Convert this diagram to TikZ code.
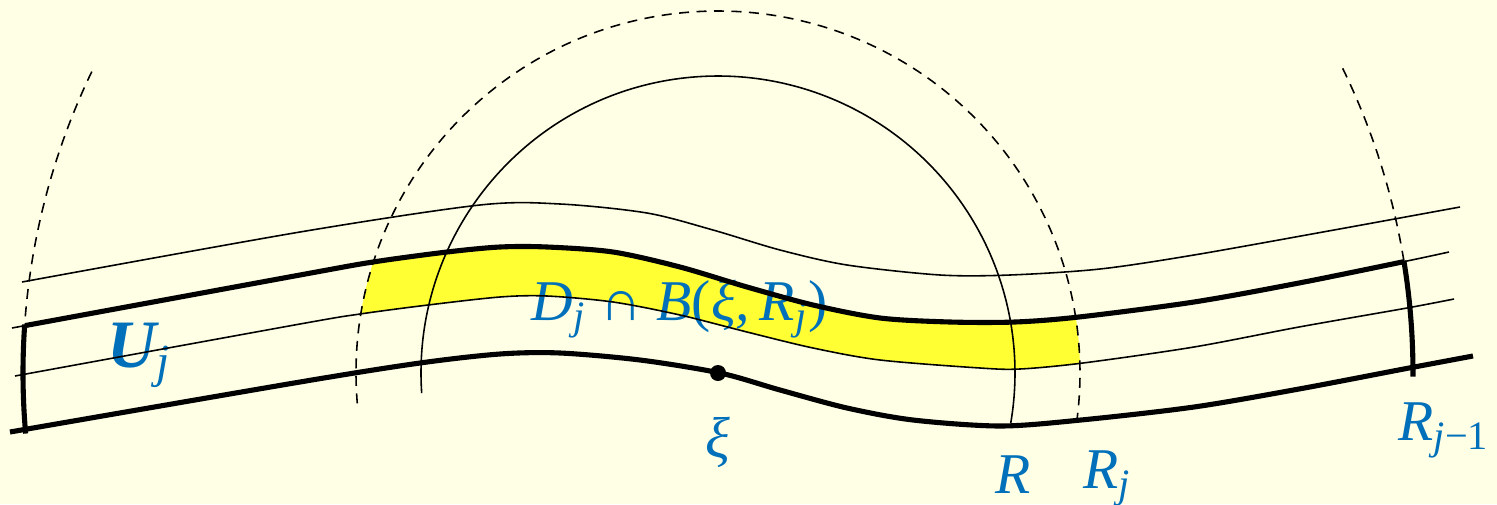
\documentclass[tikz,border=0pt]{standalone}
\usepackage{fontspec}
\setmainfont{Liberation Serif}
\usepackage{xcolor}
\usepackage{tikz}
\usetikzlibrary{positioning}
\definecolor{paper}{RGB}{255,255,230}
\definecolor{labblue}{RGB}{0,112,186}
\definecolor{hilite}{RGB}{255,255,51}
\newcommand{\lowidx}[1]{\textsubscript{\itshape #1}}
\newcommand{\topwave}{plot[smooth] coordinates {(22,222) (300,272) (480,299) (560,300) (647,291) (713,274) (780,254) (847,239) (940,229) (1010,229) (1100,235) (1194,249) (1334,274) (1460,297)}}
\newcommand{\upperwave}{plot[smooth] coordinates {(12,176) (300,229) (373,242) (447,252) (500,257) (547,257) (613,252) (680,237) (747,217) (813,199) (880,186) (950,182) (1015,182) (1079,187) (1194,202) (1299,221) (1407,243) (1449,252)}}
\newcommand{\midwave}{plot[smooth] coordinates {(15,128) (300,180) (360,190) (428,199) (500,207) (547,208) (613,202) (680,189) (747,172) (813,156) (880,144) (980,136) (1020,135) (1083,141) (1194,157) (1299,177) (1407,196) (1454,205)}}
\newcommand{\lowerwave}{plot[smooth] coordinates {(10,72) (300,122) (420,141) (500,150) (560,151) (640,144) (720,131) (780,114) (847,96) (913,84) (1000,78) (1081,84) (1194,97) (1299,115) (1409,136) (1473,148)}}
\begin{document}
\begin{tikzpicture}[
    x=0.1mm, y=0.1mm,
    thinline/.style={line width=0.45pt},
    bnd/.style={line width=1.45pt},
    circdash/.style={line width=0.45pt, dash pattern=on 1mm off 0.75mm},
    lab/.style={text=labblue, inner sep=0pt, font=\fontsize{16.4}{19}\selectfont\itshape},
]
    \fill[paper] (0,0) rectangle (1497,504);
    \useasboundingbox (0,0) rectangle (1497,504);
    \coordinate (xi) at (718,131);

    % D_j inside the ball of radius R_j
    \begin{scope}
        \clip (xi) circle (362);
        \clip \upperwave -- (1497,0) -- (0,0) -- cycle;
        \fill[hilite] \midwave -- (1497,504) -- (0,504) -- cycle;
    \end{scope}

    \node[lab, anchor=base west, font=\fontsize{19.3}{22}\selectfont\itshape] (uj) at (107,137) {\textbf{U}\lowidx{j}};
    \node[lab, anchor=base west] (dj) at (531,184) {D\lowidx{j} \upshape∩ \itshape B\upshape(\itshape ξ,\,R\lowidx{j}\upshape)};
    \node[lab, below=8.4mm of xi, anchor=base] (xilab) {ξ};
    \node[lab, anchor=base] (rlab) at (1013,11) {R};
    \node[lab, anchor=base west] (rjlab) at (1083,16) {R\lowidx{j}};
    \node[lab, anchor=base west] (rjmlab) at (1398,64) {R\lowidx{j\upshape−1}};

    \draw[thinline] \topwave;
    \draw[thinline] \upperwave;
    \draw[thinline] \midwave;
    \draw[bnd] \lowerwave;
    \begin{scope}
        \clip (xi) circle (695);
        \draw[bnd] \upperwave;
    \end{scope}

    % circles round xi
    \draw[thinline] ([shift={(183.9:297)}]xi) arc[start angle=183.9, end angle=-9.7, radius=297];
    \draw[circdash] ([shift={(184.8:362)}]xi) arc[start angle=184.8, end angle=-7.5, radius=362];
    \draw[circdash] ([shift={(154.3:695)}]xi) arc[start angle=154.3, end angle=176, radius=695];
    \draw[circdash] ([shift={(26:695)}]xi) arc[start angle=26, end angle=9.3, radius=695];
    \draw[bnd] ([shift={(176:695)}]xi) arc[start angle=176, end angle=185, radius=695];
    \draw[bnd] ([shift={(9.3:695)}]xi) arc[start angle=9.3, end angle=-0.3, radius=695];

    \fill (xi) circle (8);
\end{tikzpicture}
\end{document}
